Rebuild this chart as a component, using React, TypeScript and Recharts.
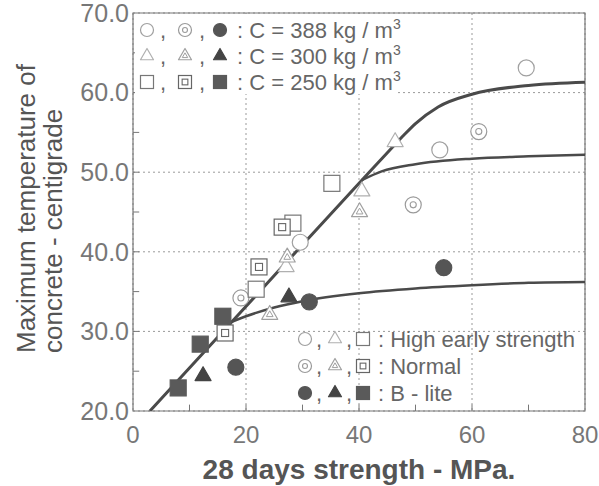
import React from "react"
import {
  ComposedChart,
  XAxis,
  YAxis,
  CartesianGrid,
  Line,
  Scatter,
  ReferenceLine,
  ReferenceArea,
  Label,
} from "recharts"

const FONT = '"Liberation Sans", Arial, Helvetica, sans-serif'

const xTicks = [0, 20, 40, 60, 80]
const yTicks = [20, 30, 40, 50, 60, 70]
const xMinorTicks = [10, 20, 30, 40, 50, 60, 70]
const yMinorTicks = [25, 30, 35, 40, 45, 50, 55, 60, 65]

// C = 388 kg/m3
const highEarly388 = [
  { x: 29.6, y: 41.2 },
  { x: 54.3, y: 52.8 },
  { x: 69.6, y: 63.1 },
]
const normal388 = [
  { x: 19.1, y: 34.2 },
  { x: 49.6, y: 45.9 },
  { x: 61.2, y: 55.1 },
]
const blite388 = [
  { x: 18.2, y: 25.5 },
  { x: 31.2, y: 33.7 },
  { x: 55.0, y: 38.0 },
]

// C = 300 kg/m3
const highEarly300 = [
  { x: 27.1, y: 38.1 },
  { x: 40.5, y: 47.6 },
  { x: 46.4, y: 53.8 },
]
const normal300 = [
  { x: 24.2, y: 32.1 },
  { x: 27.3, y: 39.3 },
  { x: 40.1, y: 45.0 },
]
const blite300 = [
  { x: 12.4, y: 24.4 },
  { x: 27.6, y: 34.3 },
]

// C = 250 kg/m3
const highEarly250 = [
  { x: 21.8, y: 35.3 },
  { x: 28.3, y: 43.6 },
  { x: 35.2, y: 48.6 },
]
const normal250 = [
  { x: 16.3, y: 29.8 },
  { x: 22.3, y: 38.1 },
  { x: 26.4, y: 43.1 },
]
const blite250 = [
  { x: 8.0, y: 22.9 },
  { x: 11.9, y: 28.4 },
  { x: 15.9, y: 31.9 },
]

// fitted trend curves
const upperCurve = [
  { x: 3, y: 20 },
  { x: 17.5, y: 31.2 },
  { x: 40.5, y: 49.0 },
  { x: 46, y: 53.2 },
  { x: 48, y: 54.7 },
  { x: 50, y: 56.1 },
  { x: 54, y: 58.2 },
  { x: 60, y: 59.8 },
  { x: 70, y: 60.9 },
  { x: 80, y: 61.3 },
]
const middleCurve = [
  { x: 40.5, y: 49.0 },
  { x: 44, y: 50.1 },
  { x: 50, y: 51.0 },
  { x: 60, y: 51.7 },
  { x: 70, y: 52.0 },
  { x: 80, y: 52.2 },
]
const lowerCurve = [
  { x: 17.5, y: 31.2 },
  { x: 20, y: 31.9 },
  { x: 25, y: 33.0 },
  { x: 30, y: 33.8 },
  { x: 40, y: 34.8 },
  { x: 50, y: 35.4 },
  { x: 60, y: 35.8 },
  { x: 70, y: 36.1 },
  { x: 80, y: 36.2 },
]

type Kind = "circle" | "triangle" | "square"
type Variant = "open" | "normal" | "filled"

const STROKE: Record<Kind, Record<Variant, string>> = {
  circle: { open: "#a0a0a0", normal: "#9a9a9a", filled: "#555" },
  triangle: { open: "#b0b0b0", normal: "#a0a0a0", filled: "#444" },
  square: { open: "#777", normal: "#666", filled: "#5a5a5a" },
}

function Marker({ cx, cy, kind, variant, size = 15 }: { cx: number; cy: number; kind: Kind; variant: Variant; size?: number }) {
  const color = STROKE[kind][variant]
  const fill = variant === "filled" ? color : "#fff"
  const sw = 1.2
  if (kind === "circle") {
    const r = size / 2
    return (
      <g>
        <circle cx={cx} cy={cy} r={r} fill={fill} stroke={color} strokeWidth={sw} />
        {variant === "normal" && <circle cx={cx} cy={cy} r={r * 0.38} fill="none" stroke={color} strokeWidth={1.1} />}
      </g>
    )
  }
  if (kind === "triangle") {
    const tri = (s: number) => {
      const h = s / Math.sqrt(3)
      return `${cx},${cy - h} ${cx - s / 2},${cy + h / 2} ${cx + s / 2},${cy + h / 2}`
    }
    return (
      <g>
        <polygon points={tri(size)} fill={fill} stroke={color} strokeWidth={sw} strokeLinejoin="round" />
        {variant === "normal" && <polygon points={tri(size * 0.42)} fill="none" stroke={color} strokeWidth={1} />}
      </g>
    )
  }
  const h = size / 2
  return (
    <g>
      <rect x={cx - h} y={cy - h} width={size} height={size} fill={fill} stroke={color} strokeWidth={sw} />
      {variant === "normal" && (
        <rect x={cx - size * 0.22} y={cy - size * 0.22} width={size * 0.44} height={size * 0.44} fill="none" stroke={color} strokeWidth={1.1} />
      )}
    </g>
  )
}

const shapeOf = (kind: Kind, variant: Variant) => (p: any) => <Marker cx={p.cx} cy={p.cy} kind={kind} variant={variant} size={16} />

const series: { data: { x: number; y: number }[]; kind: Kind; variant: Variant }[] = [
  { data: highEarly388, kind: "circle", variant: "open" },
  { data: normal388, kind: "circle", variant: "normal" },
  { data: blite388, kind: "circle", variant: "filled" },
  { data: highEarly300, kind: "triangle", variant: "open" },
  { data: normal300, kind: "triangle", variant: "normal" },
  { data: blite300, kind: "triangle", variant: "filled" },
  { data: highEarly250, kind: "square", variant: "open" },
  { data: normal250, kind: "square", variant: "normal" },
  { data: blite250, kind: "square", variant: "filled" },
]

const cementRows: { kind: Kind; label: string }[] = [
  { kind: "circle", label: "C = 388 kg / m" },
  { kind: "triangle", label: "C = 300 kg / m" },
  { kind: "square", label: "C = 250 kg / m" },
]
const typeRows: { variant: Variant; label: string }[] = [
  { variant: "open", label: "High early strength" },
  { variant: "normal", label: "Normal" },
  { variant: "filled", label: "B - lite" },
]

const textStyle = { fontFamily: FONT, fill: "#666", fontSize: 22 }

function YTitle() {
  return (
    <g style={{ fontFamily: FONT, fontSize: 26, fill: "#555" }}>
      <text transform="translate(35,353) rotate(-90)" textAnchor="start">
        Maximum temperature of
      </text>
      <text transform="translate(62,353) rotate(-90)" textAnchor="start">
        concrete - centigrade
      </text>
    </g>
  )
}

export default function App() {
  return (
    <div style={{ position: "absolute", left: 0, top: 0, width: 599, height: 486, background: "#fff" }}>
      <ComposedChart width={599} height={486} margin={{ top: 13, right: 14, bottom: 3, left: 0 }}>
        <CartesianGrid stroke="#9a9a9a" strokeDasharray="2 3" strokeWidth={1} />
        <XAxis
          type="number"
          dataKey="x"
          domain={[0, 80]}
          ticks={xTicks}
          interval={0}
          height={72}
          axisLine={false}
          tickLine={false}
          tickSize={0}
          tickMargin={15}
          tick={{ fontFamily: FONT, fontSize: 24, fill: "#777" }}
          allowDataOverflow
        >
          <Label
            value="28 days strength - MPa."
            position="insideBottom"
            offset={4}
            style={{ fontFamily: FONT, fontSize: 28, fontWeight: "bold", fill: "#555" }}
          />
        </XAxis>
        <YAxis
          type="number"
          dataKey="y"
          domain={[20, 70]}
          ticks={yTicks}
          interval={0}
          width={133}
          axisLine={false}
          tickLine={false}
          tickSize={0}
          tickMargin={4}
          tickFormatter={(v: number) => v.toFixed(1)}
          tick={{ fontFamily: FONT, fontSize: 25, fill: "#777" }}
          allowDataOverflow
        >
          <Label content={() => <YTitle />} />
        </YAxis>

        <ReferenceArea x1={0} x2={80} y1={20} y2={70} fill="none" stroke="#777" strokeWidth={1.2} />
        {xMinorTicks.map((t) => (
          <ReferenceLine key={"xt" + t} segment={[{ x: t, y: 20 }, { x: t, y: 20.8 }]} stroke="#777" />
        ))}
        {yMinorTicks.map((t) => (
          <ReferenceLine key={"yt" + t} segment={[{ x: 0, y: t }, { x: 1.1, y: t }]} stroke="#777" />
        ))}

        <Line data={upperCurve} dataKey="y" type="monotoneX" stroke="#4a4a4a" strokeWidth={3} dot={false} isAnimationActive={false} />
        <Line data={middleCurve} dataKey="y" type="monotoneX" stroke="#4a4a4a" strokeWidth={2.5} dot={false} isAnimationActive={false} />
        <Line data={lowerCurve} dataKey="y" type="monotoneX" stroke="#4a4a4a" strokeWidth={2.5} dot={false} isAnimationActive={false} />

        {series.map((s, i) => (
          <Scatter key={i} data={s.data} dataKey="y" shape={shapeOf(s.kind, s.variant)} isAnimationActive={false} />
        ))}
      </ComposedChart>

      {/* cement content key */}
      <svg style={{ position: "absolute", left: 0, top: 0 }} width={599} height={486} pointerEvents="none">
        <rect x={135} y={14} width={262} height={80} fill="#fff" />
        {cementRows.map((r, i) => {
          const cy = 30 + i * 26
          return (
            <g key={r.kind}>
              <Marker cx={147} cy={cy} kind={r.kind} variant="open" size={13} />
              <text x={160} y={cy + 8} style={textStyle}>,</text>
              <Marker cx={185} cy={cy} kind={r.kind} variant="normal" size={13} />
              <text x={199} y={cy + 8} style={textStyle}>,</text>
              <Marker cx={220} cy={cy} kind={r.kind} variant="filled" size={13} />
              <text x={237} y={cy + 8} style={textStyle}>
                : {r.label}
                <tspan dy={-9} fontSize={14}>3</tspan>
              </text>
            </g>
          )
        })}

        {/* cement type key */}
        {typeRows.map((r, i) => {
          const cy = 339 + i * 27
          return (
            <g key={r.variant}>
              <Marker cx={305} cy={cy} kind="circle" variant={r.variant} size={13} />
              <text x={316} y={cy + 8} style={textStyle}>,</text>
              <Marker cx={335} cy={cy} kind="triangle" variant={r.variant} size={13} />
              <text x={346} y={cy + 8} style={textStyle}>,</text>
              <Marker cx={363} cy={cy} kind="square" variant={r.variant} size={13} />
              <text x={378} y={cy + 8} style={textStyle}>
                : {r.label}
              </text>
            </g>
          )
        })}
      </svg>
    </div>
  )
}
